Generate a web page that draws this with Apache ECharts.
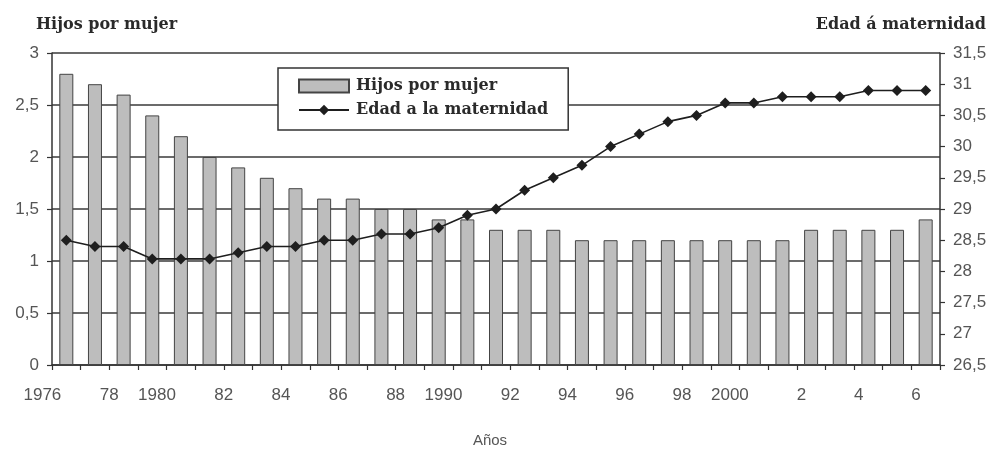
<!DOCTYPE html>
<html>
<head>
<meta charset="utf-8">
<script src="https://cdn.jsdelivr.net/npm/echarts@6/dist/echarts.min.js"></script>
<style>
html,body{margin:0;padding:0;background:#fff;}
#chart{width:997px;height:449px;}
</style>
</head>
<body>
<div id="chart"></div>
<script>
var years = ['1976','1977','1978','1979','1980','1981','1982','1983','1984','1985','1986','1987','1988','1989','1990','1991','1992','1993','1994','1995','1996','1997','1998','1999','2000','2001','2002','2003','2004','2005','2006'];
var tickLabels = ['1976','','78','','1980','','82','','84','','86','','88','','1990','','92','','94','','96','','98','','2000','','2','','4','','6'];
var hijosPorMujer = [2.8,2.7,2.6,2.4,2.2,2.0,1.9,1.8,1.7,1.6,1.6,1.5,1.5,1.4,1.4,1.3,1.3,1.3,1.2,1.2,1.2,1.2,1.2,1.2,1.2,1.2,1.3,1.3,1.3,1.3,1.4];
var edadMaternidad = [28.5,28.4,28.4,28.2,28.2,28.2,28.3,28.4,28.4,28.5,28.5,28.6,28.6,28.7,28.9,29.0,29.3,29.5,29.7,30.0,30.2,30.4,30.5,30.7,30.7,30.8,30.8,30.8,30.9,30.9,30.9];
var seriesNames = ['Hijos por mujer','Edad a la maternidad'];
var leftTitle = 'Hijos por mujer';
var rightTitle = 'Edad á maternidad';
var xName = 'Años';

var chart = echarts.init(document.getElementById('chart'), null, {renderer:'canvas'});
var labelColor = '#555';
var labelFont = 'Liberation Sans';
var serifFont = 'DejaVu Serif';
function comma(v){ return String(v).replace('.', ','); }

chart.setOption({
  animation: false,
  backgroundColor: '#fff',
  title: [
    {text: leftTitle, left: 31, top: 12, textStyle:{fontFamily: serifFont, fontWeight:'bold', fontSize:16, color:'#2a2a2a'}},
    {text: rightTitle, right: 6, top: 12, textStyle:{fontFamily: serifFont, fontWeight:'bold', fontSize:16, color:'#2a2a2a'}}
  ],
  legend: {
    orient: 'vertical',
    left: 278, top: 68,
    padding: [9, 20, 11, 20],
    itemGap: 6,
    itemWidth: 50, itemHeight: 13,
    backgroundColor: '#fff',
    borderColor: '#333', borderWidth: 1.5, borderRadius: 0,
    textStyle: {fontFamily: serifFont, fontWeight:'bold', fontSize:16, color:'#2a2a2a', lineHeight:18, padding:[0,0,0,2]},
    data: [{name: seriesNames[0], icon: 'rect'}, {name: seriesNames[1]}]
  },
  grid: {left: 52, right: 57, top: 53, bottom: 84, containLabel: false, outerBoundsMode: 'none'},
  xAxis: {
    type: 'category',
    data: years,
    boundaryGap: true,
    name: xName,
    nameLocation: 'middle',
    nameGap: 68,
    nameTextStyle: {fontFamily: labelFont, fontSize: 15, color: labelColor, padding:[0,12,0,0]},
    axisLine: {lineStyle: {color:'#333', width: 1.5}},
    axisTick: {show: true, interval: 0, length: 5, lineStyle:{color:'#333', width:1.2}},
    axisLabel: {
      interval: 0, margin: 22, align: 'right', padding: [0,5,0,0],
      fontFamily: labelFont, fontSize: 17, color: labelColor,
      formatter: function(v, i){ return tickLabels[i]; }
    },
    splitLine: {show: false}
  },
  yAxis: [
    {
      type: 'value', min: 0, max: 3, interval: 0.5, position: 'left',
      axisLine: {show: true, lineStyle: {color:'#333', width: 1.5}},
      axisTick: {show: true, length: 5, lineStyle:{color:'#333', width:1.2}},
      axisLabel: {margin: 13, fontFamily: labelFont, fontSize: 17, color: labelColor, formatter: comma},
      splitLine: {show: true, lineStyle: {color:'#3a3a3a', width: 1.5}}
    },
    {
      type: 'value', min: 26.5, max: 31.5, interval: 0.5, position: 'right',
      axisLine: {show: true, lineStyle: {color:'#333', width: 1.5}},
      axisTick: {show: true, length: 5, lineStyle:{color:'#333', width:1.2}},
      axisLabel: {margin: 13, fontFamily: labelFont, fontSize: 17, color: labelColor, formatter: comma},
      splitLine: {show: false}
    }
  ],
  series: [
    {
      name: seriesNames[0], type: 'bar', yAxisIndex: 0,
      data: hijosPorMujer, barWidth: 14,
      itemStyle: {color: '#bdbdbd', borderColor: '#444', borderWidth: 1}
    },
    {
      name: seriesNames[1], type: 'line', yAxisIndex: 1,
      data: edadMaternidad,
      symbol: 'diamond', symbolSize: 11,
      lineStyle: {color:'#1e1e1e', width: 1.6},
      itemStyle: {color:'#1e1e1e'},
      z: 5
    }
  ]
});
</script>
</body>
</html>
